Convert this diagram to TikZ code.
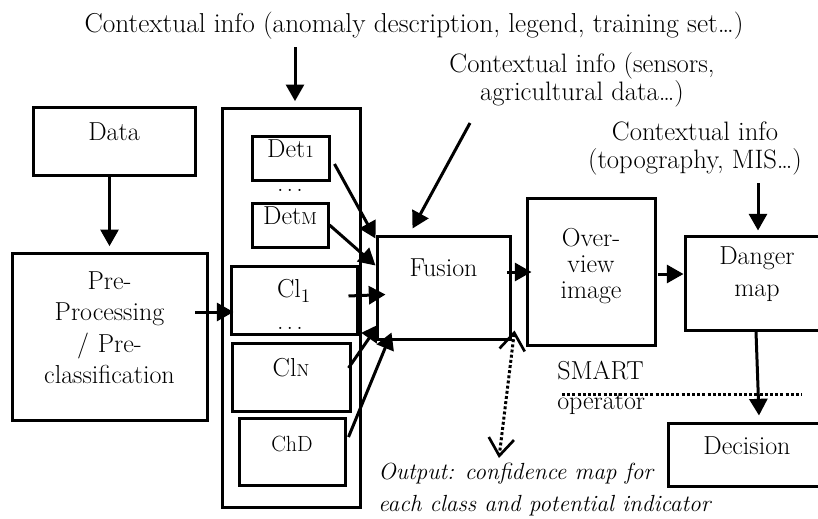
\documentclass[tikz,border=0pt]{standalone}
\usetikzlibrary{arrows.meta,fit,calc}
\tikzset{
  box/.style={draw, line width=2.25pt, rectangle, inner sep=0pt},
  arr/.style={line width=2.25pt, -{Triangle[length=12.5pt,width=13.5pt]}},
  dotline/.style={line width=2.25pt, dash pattern=on 2.2pt off 1.7pt},
  vtip/.tip={Straight Barb[length=13pt,width=19pt,line width=2pt]},
  ctx/.style={align=center, font=\fontsize{20}{21}\selectfont},
}
\newcommand{\smsub}[1]{{\fontsize{13}{13}\selectfont #1}}
\newcommand{\ellip}{.\kern.12em.\kern.12em.}
\begin{document}
\begin{tikzpicture}[x=0.75pt,y=-0.75pt,font=\fontsize{19.5}{23.5}\selectfont]
\useasboundingbox (0,0) rectangle (818,518);
\clip (0,0) rectangle (818,518);

% texts
\node[ctx, font=\fontsize{20.5}{21}\selectfont] (ctx1) at (414,26) {Contextual info (anomaly description, legend, training set\dots)};
\node[ctx] (ctx2) at (582,80) {Contextual info (sensors,\\agricultural data\dots)};
\node[ctx] (ctx3) at (695,148) {Contextual info\\(topography, MIS\dots)};

% boxes
\node[box, fit={(33,107) (195,175)}] (data) {Data};
\node[box, fit={(12,253) (207,420)}, align=center] (pre) {Pre-\\Processing\\/ Pre-\\classification};
\node[box, fit={(222,108) (360,507)}] (cont) {};
\node[box, fit={(252,136) (329,180)}] (det1) {Det\smsub{1}};
\node (dots1) at (290,190) {\ellip};
\node[box, fit={(252,203) (328,247)}] (detm) {Det\smsub{M}};
\node[box, fit={(231,266) (357,334)}] (cl1) {Cl$_1$};
\node[box, fit={(232,343) (350,411)}] (cln) {Cl\smsub{N}};
\node (dots2) at (290,328) {\ellip};
\node[box, fit={(239,418) (345,485)}, font=\fontsize{16.5}{18}\selectfont] (chd) {ChD};
\node[box, fit={(377,236) (510,339)}, label={[yshift=15pt]center:Fusion}] (fusion) {};
\node[box, fit={(527,198) (655,345)}, label={[align=center,yshift=4pt,font=\fontsize{19.5}{19.5}\selectfont]center:Over-\\view\\image}] (ov) {};
\node[box, fit={(685,236) (829,330)}, align=center] (danger) {Danger\\map};
\node[box, fit={(668,423) (826,486)}] (dec) {Decision};

\node[anchor=west, align=left, inner sep=0pt, font=\fontsize{19.5}{22.5}\selectfont] (smart) at (557,388) {SMART\\operator};
\node[anchor=west, align=left, inner sep=0pt, font=\itshape\fontsize{17.5}{24}\selectfont] (out) at (378,490) {Output: confidence map for\\each class and potential indicator};

% connectors
\coordinate (a1) at (295,47);
\draw[arr, shorten >=4pt] (a1) -- (a1 |- cont.north);
\draw[arr, shorten >=4pt] (pre.north |- data.south) -- (pre.north);
\coordinate (a3) at (195,312);
\draw[arr] (a3) -- ($(a3 -| cl1.west)+(4,0)$);
\draw[arr] ($(det1.east)+(4,6)$) -- ($(fusion.north west)+(0,4)$);
\draw[arr] (detm.east) -- ($(fusion.north west)+(0,31)$);
\draw[arr] ($(cl1.east)+(-10,-4)$) -- ($(fusion.north west)+(10,60)$);
\draw[arr] ($(cln.east)+(-3,-9)$) -- ($(fusion.south west)+(3,-16)$);
\draw[arr] ($(chd.east)+(2,-14.5)$) -- ($(fusion.south west)+(16,-8)$);
\coordinate (a9) at (470,123);
\draw[arr] (a9) -- ($(fusion.north)+(-31,-6)$);
\coordinate (a10) at (507,272);
\draw[arr] (a10) -- ($(a10 -| ov.west)+(6,0)$);
\coordinate (a11) at (658,274);
\draw[arr] (a11) -- (a11 -| danger.west);
\coordinate (a12) at (758,183);
\draw[arr, shorten >=3pt] (a12) -- (a12 |- danger.north);
\draw[arr] ($(danger.south)+(-1,0)$) -- ($(dec.north)+(12,-6)$);
\coordinate (a14) at (499,458);
\draw[dotline, vtip-vtip] ($(fusion.south east)+(3,-10)$) -- (a14);
\coordinate (a15a) at (562,394);
\coordinate (a15b) at (802,394);
\draw[dotline] (a15a) -- (a15b);
\end{tikzpicture}
\end{document}
